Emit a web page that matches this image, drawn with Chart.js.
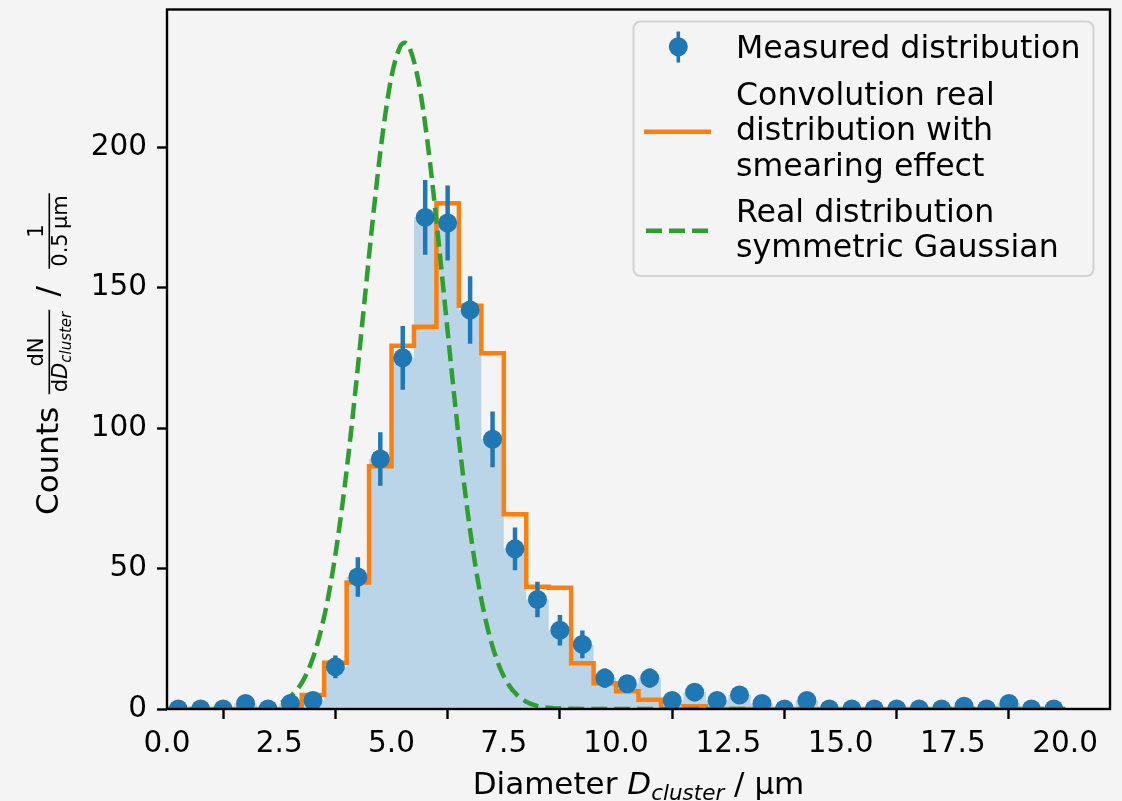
<!DOCTYPE html>
<html>
<head>
<meta charset="utf-8">
<title>Cluster diameter distribution</title>
<script src="https://cdn.jsdelivr.net/npm/chart.js@4.4.1/dist/chart.umd.min.js"></script>
<style>
  html, body { margin: 0; padding: 0; background: #f4f4f4; }
  #wrap { width: 1122px; height: 801px; }
</style>
</head>
<body>
<div id="wrap"><canvas id="histChart" width="1122" height="801"></canvas></div>
<script>
// histogram bins (µm), width 0.5
const binWidth = 0.5;
const binCenters = [
  0.25, 0.75, 1.25, 1.75, 2.25, 2.75, 3.25, 3.75, 4.25, 4.75,
  5.25, 5.75, 6.25, 6.75, 7.25, 7.75, 8.25, 8.75, 9.25, 9.75,
  10.25, 10.75, 11.25, 11.75, 12.25, 12.75, 13.25, 13.75, 14.25, 14.75,
  15.25, 15.75, 16.25, 16.75, 17.25, 17.75, 18.25, 18.75, 19.25, 19.75
];
const measured = [
  0, 0, 0, 2, 0, 2, 3, 15, 47, 89,
  125, 175, 173, 142, 96, 57, 39, 28, 23, 11,
  9, 11, 3, 6, 3, 5, 2, 0, 3, 0,
  0, 0, 0, 0, 0, 1, 0, 2, 0, 0
];
const measuredErr = [
  0, 0, 0, 1.4, 0, 1.4, 1.7, 3.9, 6.9, 9.4,
  11.2, 13.2, 13.2, 11.9, 9.8, 7.5, 6.2, 5.3, 4.8, 3.3,
  3.0, 3.3, 1.7, 2.4, 1.7, 2.2, 1.4, 0, 1.7, 0,
  0, 0, 0, 0, 0, 1.0, 0, 1.4, 0, 0
];
const convolution = [
  0, 0, 0, 0, 0, 0, 5, 16.5, 45, 86.4,
  129.3, 136.1, 180, 143.5, 126.6, 69.3, 43.5, 43.2, 16.3, 9.2,
  6.3, 3.3, 0, 1, 0, 0, 0, 0, 0, 0,
  0, 0, 0, 0, 0, 0, 0, 0, 0, 0
];
const gaussX = [
  0, 1.5, 2.0, 2.2, 2.4, 2.6, 2.8, 3.0, 3.2, 3.4, 3.6, 3.8, 4.0, 4.2, 4.4, 4.6, 4.8,
  5.0, 5.2, 5.3, 5.4, 5.6, 5.8, 6.0, 6.2, 6.4, 6.6, 6.8, 7.0, 7.2, 7.4, 7.6, 7.8,
  8.0, 8.2, 8.4, 8.6, 9.0, 9.5, 11, 20
];
const gaussY = [
  0, 0.03, 0.3, 0.65, 1.4, 2.7, 5.2, 9.3, 16.0, 26.2, 40.7, 60.3, 84.9, 113.9, 145.5, 176.8, 204.5,
  225.2, 236.0, 237.2, 235.4, 223.5, 202.0, 173.8, 142.3, 110.9, 82.2, 58.0, 39.0, 25.0, 15.2, 8.8, 4.9,
  2.6, 1.3, 0.6, 0.3, 0.05, 0, 0, 0
];
const xTicks = [0, 2.5, 5, 7.5, 10, 12.5, 15, 17.5, 20];
const xTickLabels = ['0.0', '2.5', '5.0', '7.5', '10.0', '12.5', '15.0', '17.5', '20.0'];
const yTicks = [0, 50, 100, 150, 200];
const yTickLabels = ['0', '50', '100', '150', '200'];

const BLUE = '#1f77b4', ORANGE = '#ff7f0e', GREEN = '#2ca02c';
const FONT = '"DejaVu Sans"';

// left bin edges + closing edge, for step drawing
function stepPoints(values) {
  const pts = values.map((v, i) => ({ x: binCenters[i] - binWidth / 2, y: v }));
  pts.push({ x: binCenters[binCenters.length - 1] + binWidth / 2, y: 0 });
  return pts;
}

function drawFrac(ctx, cx, num, den) {
  // num / den: arrays of [text, font, dy]
  const measure = parts => parts.reduce((w, p) => { ctx.font = p[1]; return w + ctx.measureText(p[0]).width; }, 0);
  const wn = measure(num), wd = measure(den);
  const barW = Math.max(wn, wd) + 4;
  ctx.fillRect(cx - barW / 2, -9, barW, 1.6);
  let x = cx - wn / 2;
  num.forEach(p => { ctx.font = p[1]; ctx.fillText(p[0], x, -14.5 + p[2]); x += ctx.measureText(p[0]).width; });
  x = cx - wd / 2;
  den.forEach(p => { ctx.font = p[1]; ctx.fillText(p[0], x, 9.8 + p[2]); x += ctx.measureText(p[0]).width; });
}

const decorations = {
  id: 'decorations',
  afterDraw(chart) {
    const ctx = chart.ctx;
    const a = chart.chartArea;
    ctx.save();
    // axes frame
    ctx.strokeStyle = '#000';
    ctx.lineWidth = 2.4;
    ctx.strokeRect(a.left, a.top, a.right - a.left, a.bottom - a.top);

    ctx.fillStyle = '#000';
    ctx.textBaseline = 'alphabetic';

    // x label: Diameter D_cluster / µm
    const xParts = [
      ['Diameter ', '31px ' + FONT, 0],
      ['D', 'italic 31px ' + FONT, 0],
      ['cluster', 'italic 21.5px ' + FONT, 6],
      [' / µm', '31px ' + FONT, 0]
    ];
    let total = 0;
    xParts.forEach(p => { ctx.font = p[1]; total += ctx.measureText(p[0]).width; });
    let x = (a.left + a.right) / 2 - total / 2;
    xParts.forEach(p => { ctx.font = p[1]; ctx.fillText(p[0], x, 794 + p[2]); x += ctx.measureText(p[0]).width; });

    // y label, rotated
    ctx.save();
    ctx.translate(57.5, 515);
    ctx.rotate(-Math.PI / 2);
    ctx.font = '31px ' + FONT;
    ctx.fillText('Counts', 0, 0);
    drawFrac(ctx, 163,
      [['dN', '21px ' + FONT, 0]],
      [['d', '21px ' + FONT, 0], ['D', 'italic 21px ' + FONT, 0], ['cluster', 'italic 15px ' + FONT, 3.5]]);
    ctx.font = '31px ' + FONT;
    ctx.fillText('/', 218.5, 0);
    drawFrac(ctx, 284,
      [['1', '21px ' + FONT, 0]],
      [['0.5', '21px ' + FONT, 0], ['\u2009µm', '21px ' + FONT, 0]]);
    ctx.restore();

    // legend box
    const lx = 633.5, ly = 21.5, lw = 460, lh = 254.5, r = 7;
    ctx.beginPath();
    ctx.roundRect(lx, ly, lw, lh, r);
    ctx.fillStyle = 'rgba(244,244,244,0.8)';
    ctx.fill();
    ctx.strokeStyle = '#d2d2d2';
    ctx.lineWidth = 2;
    ctx.stroke();

    // legend handles
    ctx.fillStyle = BLUE;
    ctx.fillRect(676.5, 31.5, 3.6, 31);
    ctx.beginPath();
    ctx.arc(678.3, 46.7, 9.5, 0, Math.PI * 2);
    ctx.fill();

    ctx.strokeStyle = ORANGE;
    ctx.lineWidth = 4.5;
    ctx.beginPath();
    ctx.moveTo(644, 131.7);
    ctx.lineTo(711, 131.7);
    ctx.stroke();

    ctx.strokeStyle = GREEN;
    ctx.setLineDash([16, 7]);
    ctx.beginPath();
    ctx.moveTo(646, 230.7);
    ctx.lineTo(710, 230.7);
    ctx.stroke();
    ctx.setLineDash([]);

    // legend texts
    ctx.fillStyle = '#000';
    ctx.font = '31.6px ' + FONT;
    const legendLines = [
      ['Measured distribution', 58.3],
      ['Convolution real', 104.5],
      ['distribution with', 140],
      ['smearing effect', 175.5],
      ['Real distribution', 221.7],
      ['symmetric Gaussian', 257]
    ];
    legendLines.forEach(l => ctx.fillText(l[0], 736, l[1]));
    ctx.restore();
  }
};

const tickFont = { family: 'DejaVu Sans', size: 29.5 };

new Chart(document.getElementById('histChart'), {
  type: 'scatter',
  data: {
    datasets: [
      {
        type: 'scatter',
        label: 'Measured distribution',
        data: binCenters.map((c, i) => ({ x: c, y: measured[i] })),
        backgroundColor: BLUE,
        borderWidth: 0,
        pointRadius: 9.5,
        pointHoverRadius: 9.5,
        order: 0
      },
      {
        type: 'bar',
        label: 'errors',
        data: binCenters.map((c, i) => ({ x: c, y: [measured[i] - measuredErr[i], measured[i] + measuredErr[i]] })),
        backgroundColor: BLUE,
        borderWidth: 0,
        barThickness: 3.8,
        grouped: false,
        order: 1
      },
      {
        type: 'line',
        label: 'Real distribution symmetric Gaussian',
        data: gaussX.map((g, i) => ({ x: g, y: gaussY[i] })),
        borderColor: GREEN,
        borderWidth: 4.5,
        borderDash: [16, 7],
        cubicInterpolationMode: 'monotone',
        pointRadius: 0,
        fill: false,
        order: 2
      },
      {
        type: 'line',
        label: 'Convolution real distribution with smearing effect',
        data: stepPoints(convolution),
        borderColor: ORANGE,
        borderWidth: 4.5,
        stepped: true,
        pointRadius: 0,
        fill: false,
        order: 3
      },
      {
        type: 'line',
        label: 'histogram',
        data: stepPoints(measured),
        borderColor: 'transparent',
        borderWidth: 0,
        backgroundColor: '#bbd5e8',
        stepped: true,
        pointRadius: 0,
        fill: 'origin',
        order: 4
      }
    ]
  },
  options: {
    responsive: false,
    animation: false,
    devicePixelRatio: 1,
    events: [],
    layout: { padding: { top: 6, right: 12, left: 0, bottom: 0 } },
    plugins: {
      legend: { display: false },
      tooltip: { enabled: false }
    },
    scales: {
      x: {
        type: 'linear',
        min: 0,
        max: 21,
        offset: false,
        border: { display: false },
        grid: { drawOnChartArea: false, drawTicks: true, tickLength: 10, tickWidth: 2.4, tickColor: '#000', color: '#000' },
        ticks: {
          font: tickFont,
          color: '#000',
          padding: 8,
          maxRotation: 0,
          autoSkip: false,
          callback: (v) => xTickLabels[xTicks.indexOf(v)]
        },
        afterBuildTicks: (scale) => { scale.ticks = xTicks.map(v => ({ value: v })); },
        afterFit: (scale) => { scale.height = 92; scale.paddingLeft = 0; scale.paddingRight = 0; }
      },
      y: {
        type: 'linear',
        min: 0,
        max: 249,
        border: { display: false },
        grid: { drawOnChartArea: false, drawTicks: true, tickLength: 10, tickWidth: 2.4, tickColor: '#000', color: '#000' },
        ticks: {
          font: tickFont,
          color: '#000',
          padding: 10,
          callback: (v) => yTickLabels[yTicks.indexOf(v)]
        },
        afterBuildTicks: (scale) => { scale.ticks = yTicks.map(v => ({ value: v })); },
        afterFit: (scale) => { scale.width = 167; scale.paddingTop = 0; scale.paddingBottom = 0; }
      }
    }
  },
  plugins: [decorations]
});
</script>
</body>
</html>
